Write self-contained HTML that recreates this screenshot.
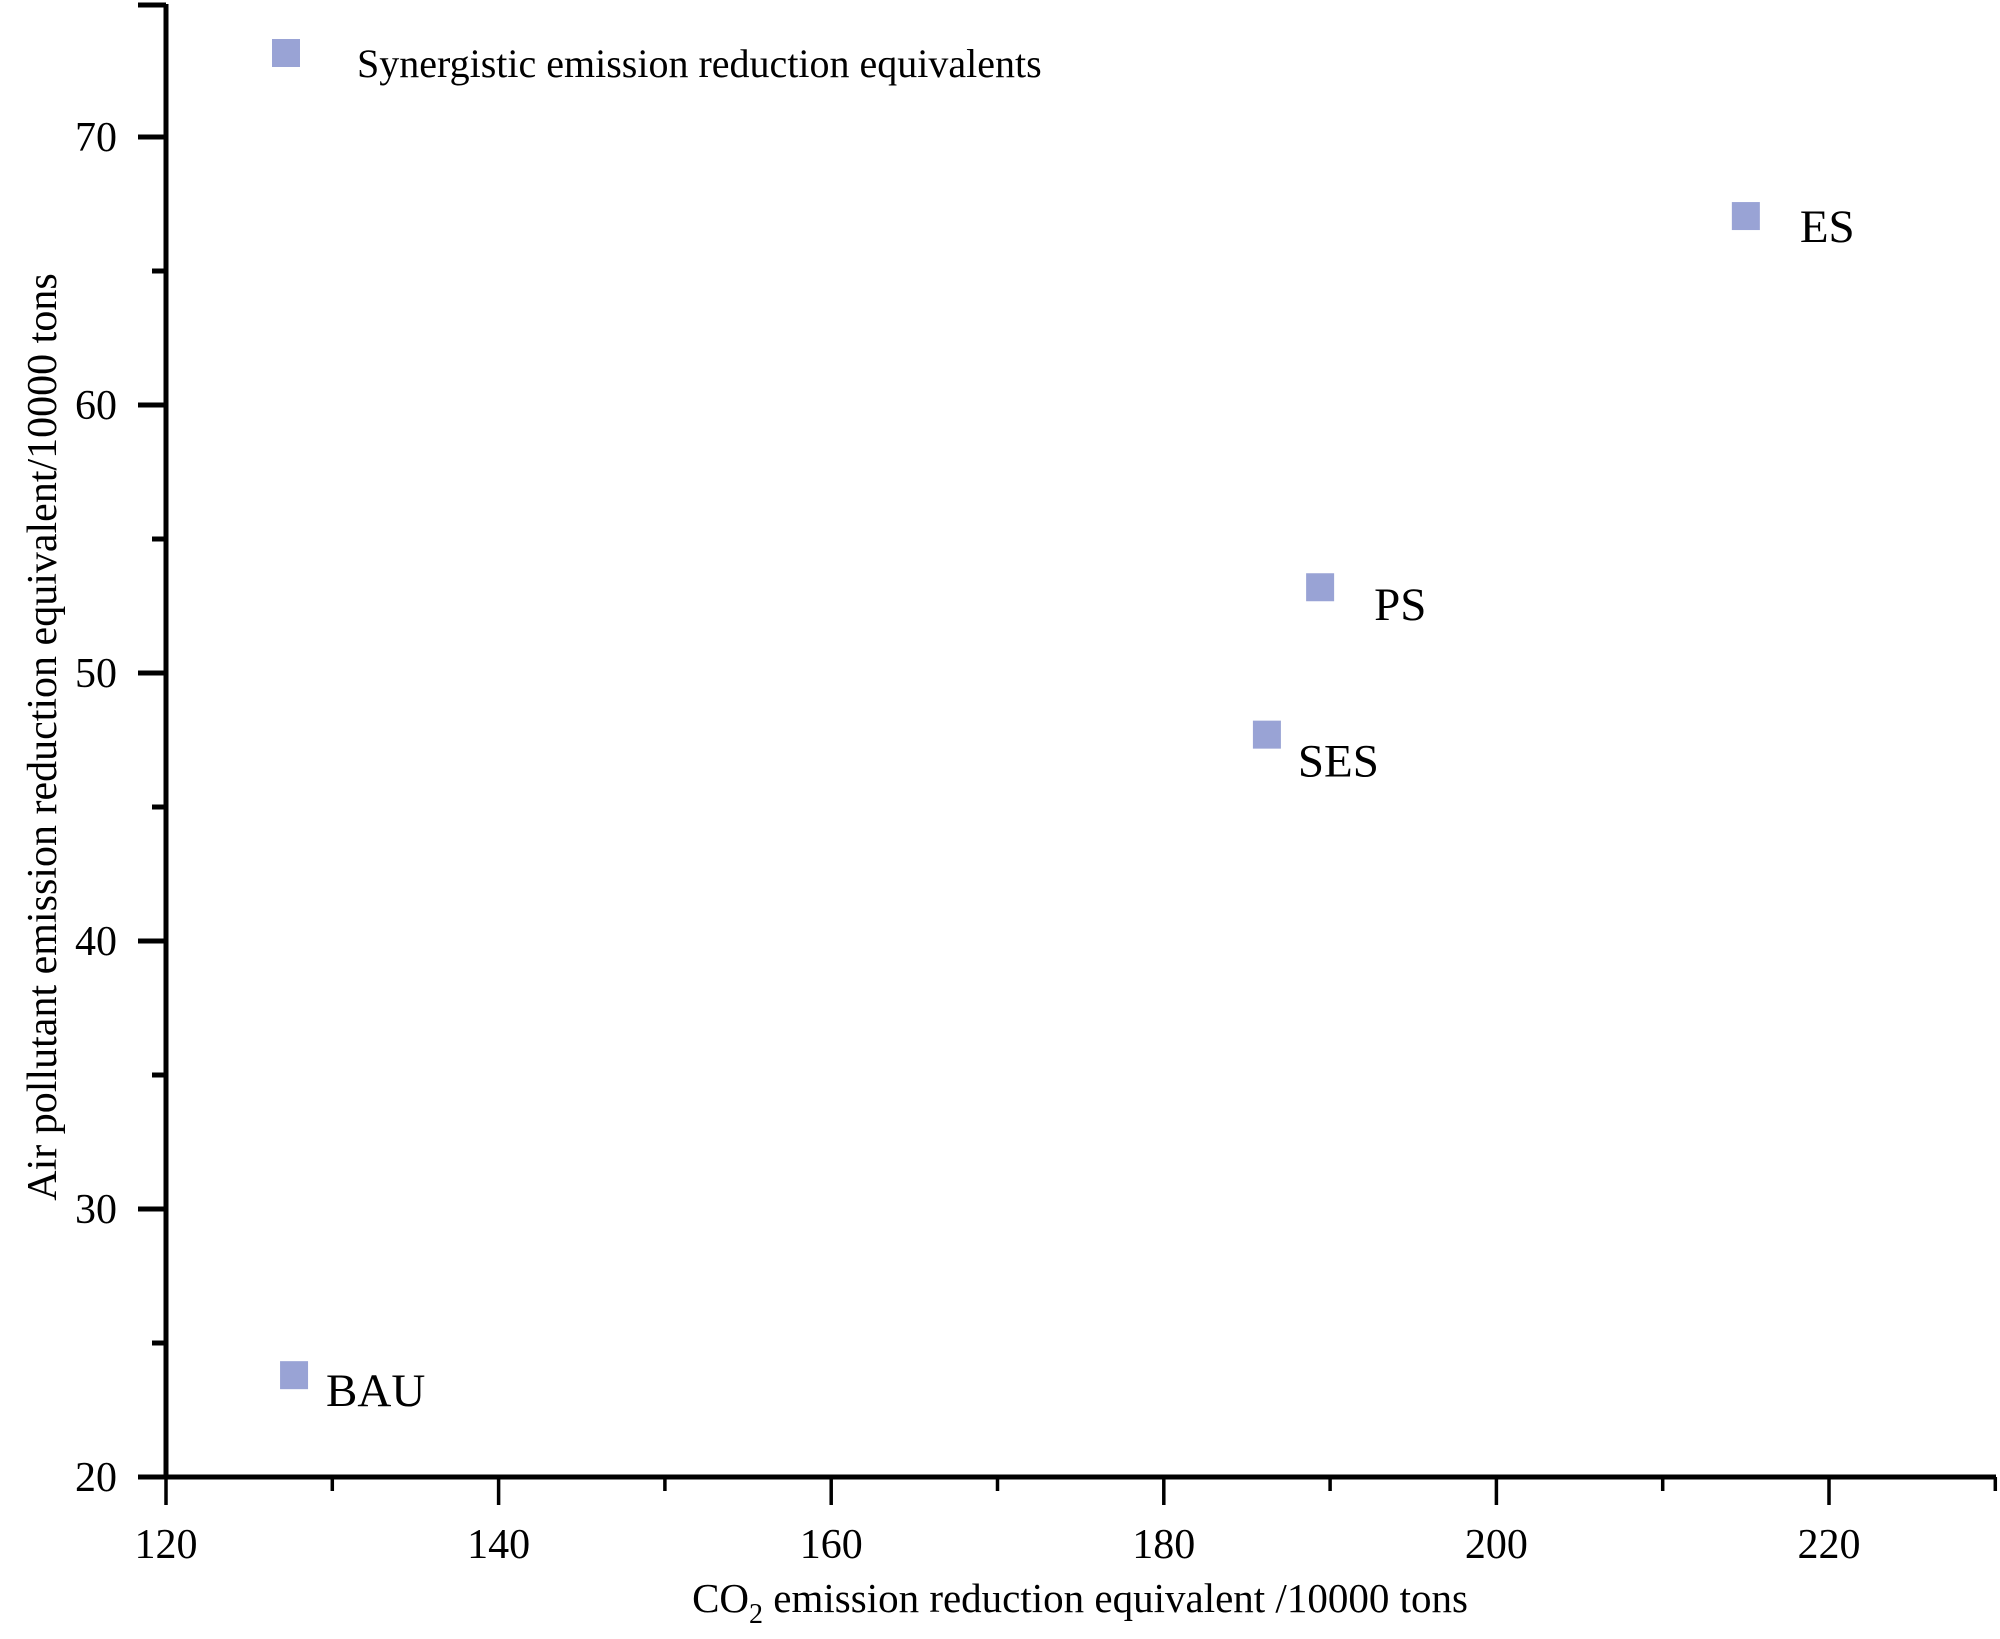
<!DOCTYPE html>
<html><head><meta charset="utf-8"><style>
html,body{margin:0;padding:0;background:#fff;}
svg{display:block;font-family:"Liberation Serif",serif;}
</style></head><body>
<svg id="chart" width="2000" height="1639" viewBox="0 0 2000 1639"></svg>
<script>
const categories = ["ES","PS","SES","BAU"];
const xValues = [215.0, 189.4, 186.2, 127.7];
const yValues = [67.05, 53.2, 47.7, 23.8];
const xTickLabels = [120,140,160,180,200,220];
const yTickLabels = [20,30,40,50,60,70];
const labelOffsets = [[54,26],[54,33],[31,42],[32,31]];

const svg = document.getElementById('chart');
const NS = 'http://www.w3.org/2000/svg';
const X0=166, X1=1829, XV0=120, XV1=220;
const Y0=1477, Y1=137, YV0=20, YV1=70;
const sx = v => X0 + (v-XV0)*(X1-X0)/(XV1-XV0);
const sy = v => Y0 - (v-YV0)*(Y0-Y1)/(YV1-YV0);
function mk(tag, attrs, parent){const e=document.createElementNS(NS,tag);for(const k in attrs)e.setAttribute(k,attrs[k]);(parent||svg).appendChild(e);return e;}

let g = mk('g',{});


let ax = mk('line',{x1:X0,y1:Y0,x2:1996,y2:Y0,stroke:'#000','stroke-width':5},g);


let ay = mk('line',{x1:X0,y1:Y0+2,x2:X0,y2:4,stroke:'#000','stroke-width':5},g);


mk('line',{x1:X0-28,y1:5,x2:X0,y2:5,stroke:'#000','stroke-width':5},g);

for(let v=120; v<=230; v+=10){
  const major = v%20===0;
  const len = major?28:14;
  const t = mk('line',{x1:sx(v),y1:Y0,x2:sx(v),y2:Y0+len,stroke:'#000','stroke-width':3.5},g);
  
  
}
xTickLabels.forEach(v=>{
  const t = mk('text',{x:sx(v),y:1558,'font-size':42,'text-anchor':'middle',fill:'#000'},g);
  t.textContent=v;
  
  
});
for(let v=20; v<=70; v+=5){
  const major = v%10===0;
  const len = major?28:14;
  const t = mk('line',{x1:X0-len,y1:sy(v),x2:X0,y2:sy(v),stroke:'#000','stroke-width':5},g);
  
  
}
yTickLabels.forEach(v=>{
  const t = mk('text',{x:117,y:sy(v)+14,'font-size':42,'text-anchor':'end',fill:'#000'},g);
  t.textContent=v;
  
  
});
const xt = mk('text',{x:1080,y:1612,'font-size':41,'text-anchor':'middle',fill:'#000'});
xt.innerHTML='CO<tspan font-size="28" dy="11">2</tspan><tspan dy="-11"> emission reduction equivalent /10000 tons</tspan>';


const yt = mk('text',{x:0,y:0,'font-size':42,'text-anchor':'middle',fill:'#000',transform:'translate(56,737) rotate(-90)'});
yt.textContent='Air pollutant emission reduction equivalent/10000 tons';



const S=28;
categories.forEach((c,i)=>{
  const px=sx(xValues[i]), py=sy(yValues[i]);
  const r = mk('rect',{x:px-S/2,y:py-S/2,width:S,height:S,fill:'#99a3d5'});
  
  
  const t = mk('text',{x:px+labelOffsets[i][0],y:py+labelOffsets[i][1],'font-size':47,fill:'#000'});
  t.textContent=c;
  
  
});

const lg = mk('g',{});


const lr = mk('rect',{x:272,y:39,width:28,height:28,fill:'#99a3d5'},lg);


const lt = mk('text',{x:357,y:77,'font-size':40,fill:'#000'},lg);
lt.textContent='Synergistic emission reduction equivalents';


</script>
</body></html>
